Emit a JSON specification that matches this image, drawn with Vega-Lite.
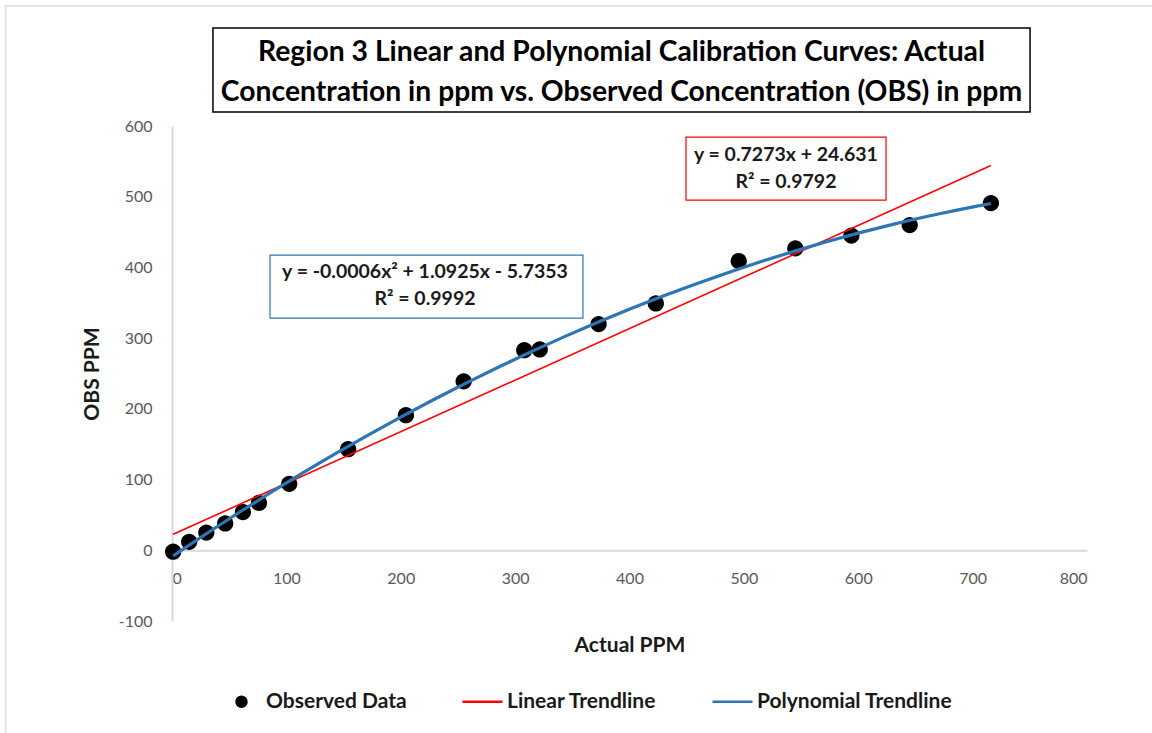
{
  "$schema": "https://vega.github.io/schema/vega-lite/v6.json",
  "autosize": "none",
  "width": 915,
  "height": 495,
  "padding": {"left": 172, "top": 126, "right": 65, "bottom": 112},
  "background": "white",
  "config": {
    "view": {"stroke": null},
    "font": "Lato",
    "axis": {"grid": false, "ticks": false, "domainColor": "#D9D9D9", "domainWidth": 2, "labelColor": "#595959", "labelFont": "Lato", "labelFontSize": 16, "titleFont": "Lato", "titleFontSize": 21, "titleFontWeight": "bold", "titleColor": "#1a1a1a"}
  },
  "title": {
    "text": ["Region 3 Linear and Polynomial Calibration Curves: Actual", "Concentration in ppm vs. Observed Concentration (OBS) in ppm"],
    "font": "Lato",
    "fontSize": 28.3,
    "fontWeight": "bold",
    "color": "#000000",
    "anchor": "middle",
    "frame": "group",
    "dx": -8,
    "dy": 152,
    "lineHeight": 40,
    "baseline": "bottom",
    "offset": 22
  },
  "data": {
    "values": [
      {"actual": 1, "obs": -2, "series": "Observed Data"},
      {"actual": 15, "obs": 12, "series": "Observed Data"},
      {"actual": 30, "obs": 25, "series": "Observed Data"},
      {"actual": 46.5, "obs": 38, "series": "Observed Data"},
      {"actual": 62, "obs": 54, "series": "Observed Data"},
      {"actual": 76, "obs": 67, "series": "Observed Data"},
      {"actual": 102.5, "obs": 94, "series": "Observed Data"},
      {"actual": 154, "obs": 143, "series": "Observed Data"},
      {"actual": 204.5, "obs": 191, "series": "Observed Data"},
      {"actual": 255, "obs": 239, "series": "Observed Data"},
      {"actual": 308, "obs": 283, "series": "Observed Data"},
      {"actual": 321.5, "obs": 284, "series": "Observed Data"},
      {"actual": 373, "obs": 320, "series": "Observed Data"},
      {"actual": 423, "obs": 349, "series": "Observed Data"},
      {"actual": 495.5, "obs": 409, "series": "Observed Data"},
      {"actual": 545, "obs": 427, "series": "Observed Data"},
      {"actual": 594, "obs": 445, "series": "Observed Data"},
      {"actual": 645, "obs": 460, "series": "Observed Data"},
      {"actual": 716, "obs": 491, "series": "Observed Data"}
    ]
  },
  "layer": [
    {
      "data": {"values": [{}]},
      "mark": {"type": "rect", "fill": null, "fillOpacity": 0, "stroke": "#E3E3E3", "strokeWidth": 2},
      "encoding": {
        "x": {"datum": -145.4, "type": "quantitative"},
        "x2": {"datum": 900},
        "y": {"datum": 769.8, "type": "quantitative"},
        "y2": {"datum": -300}
      }
    },
    {
      "data": {"values": [{}]},
      "mark": {"type": "rect", "fill": null, "fillOpacity": 0, "stroke": "#000000", "strokeWidth": 1.5},
      "encoding": {
        "x": {"datum": 35.8, "type": "quantitative"},
        "x2": {"datum": 750.2},
        "y": {"datum": 738.6, "type": "quantitative"},
        "y2": {"datum": 619.8}
      }
    },
    {
      "data": {"values": [{}]},
      "mark": {"type": "rect", "fill": null, "fillOpacity": 0, "stroke": "#2E75B6", "strokeWidth": 1.2},
      "encoding": {
        "x": {"datum": 85.7, "type": "quantitative"},
        "x2": {"datum": 359.3},
        "y": {"datum": 417.4, "type": "quantitative"},
        "y2": {"datum": 328.3}
      }
    },
    {
      "data": {"values": [{}]},
      "mark": {"type": "rect", "fill": null, "fillOpacity": 0, "stroke": "#FF0000", "strokeWidth": 1.2},
      "encoding": {
        "x": {"datum": 449.4, "type": "quantitative"},
        "x2": {"datum": 624.3},
        "y": {"datum": 584.4, "type": "quantitative"},
        "y2": {"datum": 495.3}
      }
    },
    {
      "mark": {"type": "point", "filled": true, "opacity": 1, "size": 4225},
      "encoding": {
        "x": {"field": "actual", "type": "quantitative", "title": "Actual PPM",
              "scale": {"domain": [0, 800], "nice": false, "zero": false},
              "axis": {"values": [0, 100, 200, 300, 400, 500, 600, 700, 800], "offset": -70.7, "labelPadding": 20, "titlePadding": 48, "labelExpr": "'' + datum.value"}},
        "y": {"field": "obs", "type": "quantitative", "title": "OBS PPM",
              "scale": {"domain": [-100, 600], "nice": false, "zero": false},
              "axis": {"values": [-100, 0, 100, 200, 300, 400, 500, 600], "labelPadding": 20, "titlePadding": 16, "labelExpr": "'' + datum.value"}},
        "color": {"field": "series", "type": "nominal",
                  "scale": {"domain": ["Observed Data", "Linear Trendline", "Polynomial Trendline"], "range": ["#000000", "#FF0000", "#2E75B6"]},
                  "legend": {"title": null, "orient": "none", "legendX": 48, "legendY": 554, "direction": "horizontal", "padding": 0,
                             "symbolSize": 1600, "symbolStrokeWidth": 2.5, "labelFont": "Lato", "labelFontSize": 21, "labelFontWeight": "bold", "labelColor": "#1a1a1a",
                             "labelOffset": 3, "columnPadding": 50, "labelLimit": 400,
                             "encode": {"symbols": {"update": {"stroke": {"scale": "color", "field": "value"}, "strokeWidth": [{"test": "datum.value === 'Polynomial Trendline'", "value": 3.5}, {"test": "datum.value === 'Linear Trendline'", "value": 2}, {"value": 0}]}}}}},
        "shape": {"field": "series", "type": "nominal",
                  "scale": {"domain": ["Observed Data", "Linear Trendline", "Polynomial Trendline"], "range": ["M -0.25 0 A 0.25 0.25 0 1 1 0.25 0 A 0.25 0.25 0 1 1 -0.25 0 Z", "M -1 0 L 1 0", "M -1 0 L 1 0"]},
                  "legend": null}
      }
    },
    {
      "transform": [{"regression": "obs", "on": "actual"}],
      "mark": {"type": "line", "strokeWidth": 1.6},
      "encoding": {
        "x": {"field": "actual", "type": "quantitative"},
        "y": {"field": "obs", "type": "quantitative"},
        "color": {"datum": "Linear Trendline", "type": "nominal"}
      }
    },
    {
      "transform": [{"regression": "obs", "on": "actual", "method": "poly", "order": 2}],
      "mark": {"type": "line", "strokeWidth": 3.2},
      "encoding": {
        "x": {"field": "actual", "type": "quantitative"},
        "y": {"field": "obs", "type": "quantitative"},
        "color": {"datum": "Polynomial Trendline", "type": "nominal"}
      }
    },
    {
      "data": {"values": [{}]},
      "mark": {"type": "text", "text": ["y = -0.0006x² + 1.0925x - 5.7353", "R² = 0.9992"], "font": "Lato", "fontSize": 19.5, "fontWeight": "bold", "color": "#1a1a1a", "align": "center", "baseline": "middle", "lineHeight": 27},
      "encoding": {
        "x": {"datum": 221.2, "type": "quantitative"},
        "y": {"datum": 393.4, "type": "quantitative"}
      }
    },
    {
      "data": {"values": [{}]},
      "mark": {"type": "text", "text": ["y = 0.7273x + 24.631", "R² = 0.9792"], "font": "Lato", "fontSize": 19.5, "fontWeight": "bold", "color": "#1a1a1a", "align": "center", "baseline": "middle", "lineHeight": 27},
      "encoding": {
        "x": {"datum": 536.8, "type": "quantitative"},
        "y": {"datum": 558.9, "type": "quantitative"}
      }
    }
  ]
}
